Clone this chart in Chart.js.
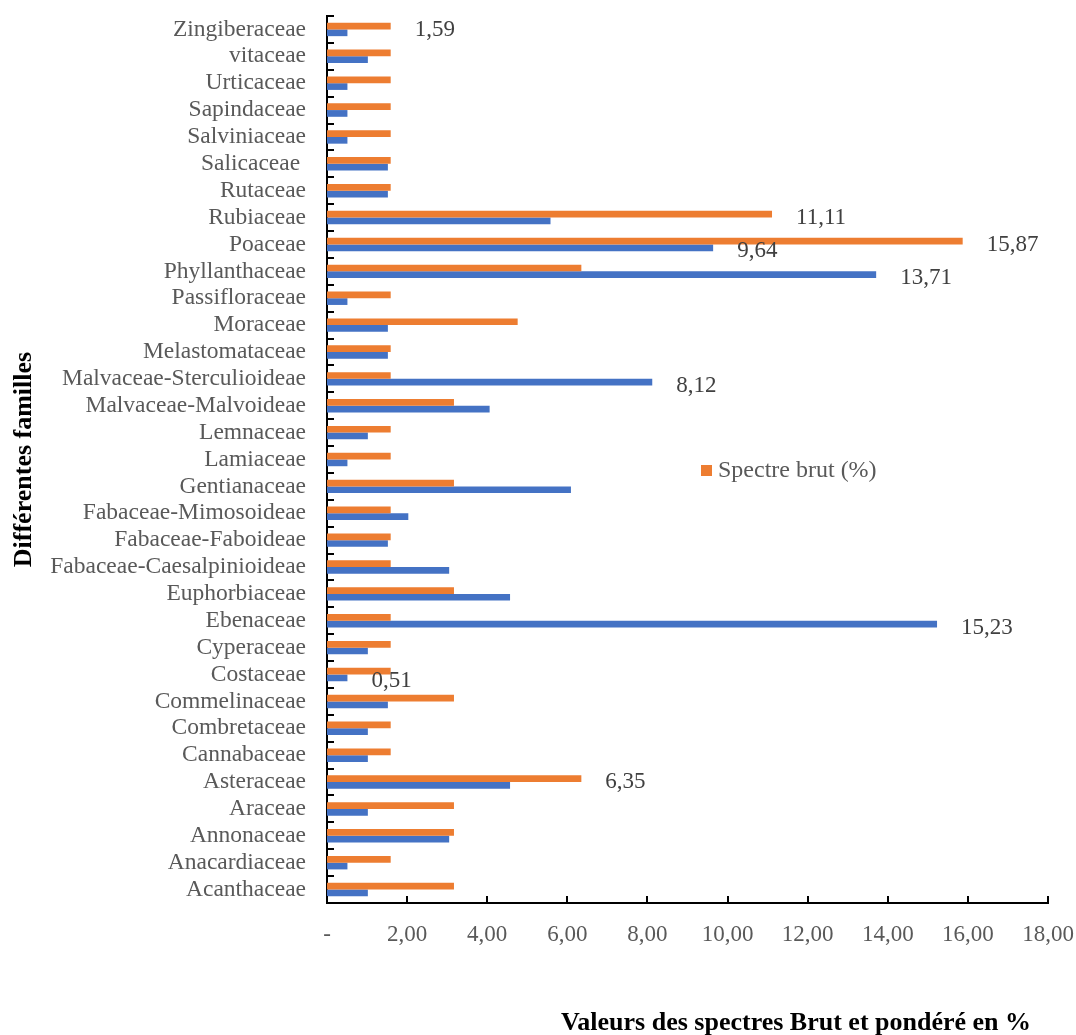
<!DOCTYPE html>
<html lang="fr">
<head>
<meta charset="utf-8">
<title>Spectres brut et pondéré par famille</title>
<script src="https://cdn.jsdelivr.net/npm/chart.js@4.4.1/dist/chart.umd.min.js"></script>
<style>
  html, body { margin: 0; padding: 0; background: #ffffff; }
  #wrap { width: 1076px; height: 1035px; position: relative; }
</style>
</head>
<body>
<div id="wrap"><canvas id="chart" width="1076" height="1035"></canvas></div>
<script>
// Families, listed from the top of the chart to the bottom
const families = [
  'Zingiberaceae', 'vitaceae', 'Urticaceae', 'Sapindaceae', 'Salviniaceae',
  'Salicaceae ', 'Rutaceae', 'Rubiaceae', 'Poaceae', 'Phyllanthaceae',
  'Passifloraceae', 'Moraceae', 'Melastomataceae', 'Malvaceae-Sterculioideae',
  'Malvaceae-Malvoideae', 'Lemnaceae', 'Lamiaceae', 'Gentianaceae',
  'Fabaceae-Mimosoideae', 'Fabaceae-Faboideae', 'Fabaceae-Caesalpinioideae',
  'Euphorbiaceae', 'Ebenaceae', 'Cyperaceae', 'Costaceae', 'Commelinaceae',
  'Combretaceae', 'Cannabaceae', 'Asteraceae', 'Araceae', 'Annonaceae',
  'Anacardiaceae', 'Acanthaceae'
];

// Spectre brut (%)
const spectreBrut = [
  1.59, 1.59, 1.59, 1.59, 1.59,
  1.59, 1.59, 11.11, 15.87, 6.35,
  1.59, 4.76, 1.59, 1.59,
  3.17, 1.59, 1.59, 3.17,
  1.59, 1.59, 1.59,
  3.17, 1.59, 1.59, 1.59, 3.17,
  1.59, 1.59, 6.35, 3.17, 3.17,
  1.59, 3.17
];

// Spectre pondéré (%)
const spectrePondere = [
  0.51, 1.02, 0.51, 0.51, 0.51,
  1.52, 1.52, 5.58, 9.64, 13.71,
  0.51, 1.52, 1.52, 8.12,
  4.06, 1.02, 0.51, 6.09,
  2.03, 1.52, 3.05,
  4.57, 15.23, 1.02, 0.51, 1.52,
  1.02, 1.02, 4.57, 1.02, 3.05,
  0.51, 1.02
];

// Value axis
const axisMin = 0;
const axisMax = 18;
const axisStep = 2;

// Bars carrying a value label: [series index, family]
const labelledBars = [
  [0, 'Zingiberaceae'],
  [0, 'Rubiaceae'],
  [0, 'Poaceae'],
  [1, 'Poaceae'],
  [1, 'Phyllanthaceae'],
  [1, 'Malvaceae-Sterculioideae'],
  [1, 'Ebenaceae'],
  [1, 'Costaceae'],
  [0, 'Asteraceae']
];

const SERIF = '"Liberation Serif", "Times New Roman", serif';
const fmt = v => v.toFixed(2).replace('.', ',');

// Keep the plot frame fixed: scales may not push it inward for label overhang
function noOverhang(scale) {
  scale.paddingTop = 0;
  scale.paddingBottom = 0;
  scale.paddingLeft = 0;
  scale.paddingRight = 0;
}

// Inward tick marks on both axes
const axisTicks = {
  id: 'axisTicks',
  afterDraw(chart) {
    const { ctx, chartArea } = chart;
    const x = chart.scales.x, y = chart.scales.y;
    ctx.save();
    ctx.strokeStyle = '#000000';
    ctx.lineWidth = 2;
    ctx.beginPath();
    const step = y.getPixelForValue(1) - y.getPixelForValue(0);
    for (let i = 0; i <= families.length; i++) {
      const py = Math.round(y.getPixelForValue(i) - step / 2);
      ctx.moveTo(chartArea.left, py);
      ctx.lineTo(chartArea.left + 7, py);
    }
    x.ticks.forEach(t => {
      const px = Math.round(x.getPixelForValue(t.value));
      ctx.moveTo(px, chartArea.bottom);
      ctx.lineTo(px, chartArea.bottom - 7);
    });
    ctx.stroke();
    ctx.restore();
  }
};

// Value labels at the end of selected bars
const barValueLabels = {
  id: 'barValueLabels',
  afterDatasetsDraw(chart, args, opts) {
    const { ctx } = chart;
    ctx.save();
    ctx.font = '23px ' + SERIF;
    ctx.fillStyle = '#404040';
    ctx.textAlign = 'left';
    ctx.textBaseline = 'alphabetic';
    labelledBars.forEach(([ds, fam]) => {
      const idx = families.indexOf(fam);
      const el = chart.getDatasetMeta(ds).data[idx];
      const v = chart.data.datasets[ds].data[idx];
      ctx.fillText(fmt(v), el.x + opts.gap, el.y + opts.baseline);
    });
    ctx.restore();
  }
};

// Legend entry for the raw spectrum, inside the plot
const innerLegend = {
  id: 'innerLegend',
  afterDraw(chart, args, opts) {
    const { ctx, chartArea } = chart;
    const ds = chart.data.datasets[0];
    const x0 = chartArea.left + opts.dx;
    const yb = opts.y;
    ctx.save();
    ctx.fillStyle = ds.backgroundColor;
    ctx.fillRect(x0, yb - 11.5, 11, 11);
    ctx.font = '24px ' + SERIF;
    ctx.fillStyle = '#595959';
    ctx.textAlign = 'left';
    ctx.textBaseline = 'alphabetic';
    ctx.fillText(ds.label, x0 + 17, yb);
    ctx.restore();
  }
};

// Horizontal axis title
const valueAxisTitle = {
  id: 'valueAxisTitle',
  afterDraw(chart, args, opts) {
    const { ctx } = chart;
    ctx.save();
    ctx.font = 'bold 26px ' + SERIF;
    ctx.fillStyle = '#000000';
    ctx.textAlign = 'center';
    ctx.textBaseline = 'alphabetic';
    ctx.fillText(opts.text, opts.x, opts.y);
    ctx.restore();
  }
};

new Chart(document.getElementById('chart'), {
  type: 'bar',
  data: {
    labels: families,
    datasets: [
      {
        label: 'Spectre brut (%)',
        data: spectreBrut,
        backgroundColor: '#ED7D31',
        categoryPercentage: 0.5,
        barPercentage: 1.0
      },
      {
        label: 'Spectre pondéré (%)',
        data: spectrePondere,
        backgroundColor: '#4472C4',
        categoryPercentage: 0.5,
        barPercentage: 1.0
      }
    ]
  },
  options: {
    indexAxis: 'y',
    responsive: false,
    animation: false,
    devicePixelRatio: 1,
    layout: { padding: { top: 16, right: 28, bottom: 0, left: 0 } },
    scales: {
      x: {
        min: axisMin,
        max: axisMax,
        grid: { display: false, drawTicks: false },
        border: { display: true, color: '#000000', width: 2 },
        ticks: {
          stepSize: axisStep,
          color: '#595959',
          font: { family: SERIF, size: 23 },
          padding: 18,
          maxRotation: 0,
          callback: v => (v === 0 ? '-' : fmt(v))
        },
        afterFit(scale) { scale.height = 132; noOverhang(scale); }
      },
      y: {
        grid: { display: false, drawTicks: false },
        border: { display: true, color: '#000000', width: 2 },
        ticks: {
          autoSkip: false,
          color: '#595959',
          font: { family: SERIF, size: 23.5, lineHeight: 1 },
          padding: 21
        },
        title: {
          display: true,
          text: 'Différentes familles',
          color: '#000000',
          font: { family: SERIF, size: 26, weight: 'bold', lineHeight: 1.2 },
          padding: { top: 9, bottom: 0 }
        },
        afterFit(scale) { scale.width = 327; noOverhang(scale); }
      }
    },
    plugins: {
      legend: { display: false },
      tooltip: { enabled: false },
      barValueLabels: { gap: 24, baseline: 9.5 },
      innerLegend: { dx: 374, y: 476.5 },
      valueAxisTitle: { text: 'Valeurs des spectres Brut et pondéré en %', x: 796, y: 1030 }
    }
  },
  plugins: [axisTicks, barValueLabels, innerLegend, valueAxisTitle]
});
</script>
</body>
</html>
